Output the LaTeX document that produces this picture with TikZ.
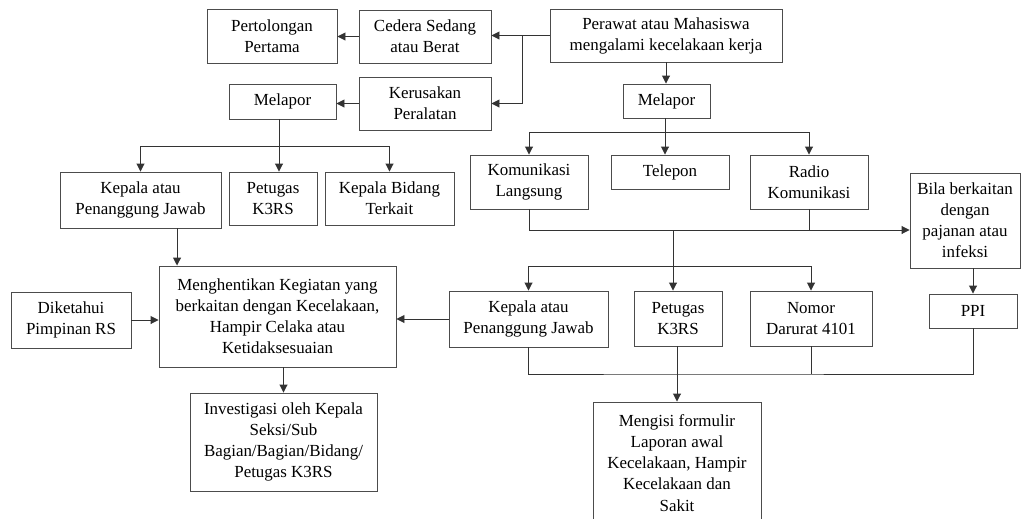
\documentclass[tikz,border=0pt]{standalone}
\usepackage{fontspec}
\setmainfont{Liberation Serif}
\usetikzlibrary{arrows.meta}

\begin{document}
\begin{tikzpicture}[x=0.75pt,y=-0.75pt,
        box/.style={draw=black!70, line width=0.7pt, inner sep=0pt, align=center, font=\fontsize{12.7}{15.8}\selectfont},
        wh/.style 2 args={minimum width=#1*0.75pt, minimum height=#2*0.75pt},
        conn/.style={draw=black!80, line width=0.7pt},
        >={Triangle[length=6pt,width=6pt]}]
        \useasboundingbox (0,0) rectangle (1031,518);
        % top row
        \node[box, wh={130}{54}] (pert) at (272,36) {Pertolongan\\Pertama};
        \node[box, wh={132}{53}] (cedera) at (425,36.5) {Cedera Sedang\\atau Berat};
        \node[box, wh={232}{53}] (perawat) at (666,35.5) {Perawat atau Mahasiswa\\mengalami kecelakaan kerja};
        \node[box, wh={107}{35}] (melaporL) at (282.5,101.5) {Melapor};
        \node[box, wh={132}{53}] (rusak) at (425,103.5) {Kerusakan\\Peralatan};
        \node[box, wh={87}{34}] (melaporR) at (666.5,101) {Melapor};
        % left branch
        \node[box, wh={161}{56}] (kepalaL) at (140.5,200) {Kepala atau\\Penanggung Jawab};
        \node[box, wh={88}{53}] (petugasL) at (273,198.5) {Petugas\\K3RS};
        \node[box, wh={129}{53}] (bidang) at (389.5,198.5) {Kepala Bidang\\Terkait};
        \node[box, wh={237}{101}] (stop) at (277.5,316.5) {Menghentikan Kegiatan yang\\berkaitan dengan Kecelakaan,\\Hampir Celaka atau\\Ketidaksesuaian};
        \node[box, wh={120}{56}] (tahu) at (71,320) {Diketahui\\Pimpinan RS};
        \node[box, wh={187}{98}] (invest) at (283.5,442) {Investigasi oleh Kepala\\Seksi/Sub\\Bagian/Bagian/Bidang/\\Petugas K3RS};
        % right branch
        \node[box, wh={118}{54}] (komL) at (529,182) {Komunikasi\\Langsung};
        \node[box, wh={118}{34}] (telp) at (670,172) {Telepon};
        \node[box, wh={118}{54}] (radio) at (809,182) {Radio\\Komunikasi};
        \node[box, wh={110}{95}] (bila) at (965,220.5) {Bila berkaitan\\dengan\\pajanan atau\\infeksi};
        \node[box, wh={159}{56}] (kepalaR) at (528.5,319) {Kepala atau\\Penanggung Jawab};
        \node[box, wh={88}{55}] (petugasR) at (678,318.5) {Petugas\\K3RS};
        \node[box, wh={122}{55}] (nomor) at (811,318.5) {Nomor\\Darurat 4101};
        \node[box, wh={88}{34}] (ppi) at (973,311) {PPI};
        \node[box, wh={168}{122}] (isi) at (677,463) {Mengisi formulir\\Laporan awal\\Kecelakaan, Hampir\\Kecelakaan dan\\Sakit};

        % connectors, top
        \draw[conn,->] (perawat.west) -- (perawat.west -| cedera.east);
        \draw[conn,->] (perawat.west) -- ++(-27,0) |- (rusak.east);
        \draw[conn,->] (cedera.west) -- (cedera.west -| pert.east);
        \draw[conn,->] (rusak.west) -- (rusak.west -| melaporL.east);
        \draw[conn,->] (perawat.south) -- (perawat.south |- melaporR.north);

        % left branch
        \coordinate (busL) at (279,146);
        \draw[conn] (melaporL.south -| busL) -- (busL);
        \draw[conn,->] (busL) -| (kepalaL.north);
        \draw[conn,->] (busL) -| (bidang.north);
        \draw[conn,->] (busL) -- (busL |- petugasL.north);
        \draw[conn,->] ([xshift=27.4pt]kepalaL.south) -- ([xshift=27.4pt]kepalaL.south |- stop.north);
        \draw[conn,->] (tahu.east) -- (tahu.east -| stop.west);
        \draw[conn,->] (kepalaR.west) -- (kepalaR.west -| stop.east);
        \draw[conn,->] (invest.north |- stop.south) -- (invest.north);

        % right branch
        \coordinate (busR) at (665,132);
        \draw[conn] (melaporR.south -| busR) -- (busR);
        \draw[conn,->] (busR) -| (komL.north);
        \draw[conn,->] (busR) -| (radio.north);
        \draw[conn,->] (busR) -- (busR |- telp.north);
        \coordinate (mid) at (673,230);
        \coordinate (low) at (673,266);
        \draw[conn] (komL.south) |- (mid);
        \draw[conn,->] (radio.south) |- (bila.west |- mid);
        \draw[conn] (komL.south |- mid) -- (radio.south |- mid);
        \draw[conn] (mid) -- (low);
        \draw[conn,->] (low) -| (kepalaR.north);
        \draw[conn,->] (low) -| (nomor.north);
        \draw[conn,->] (low) -- (low |- petugasR.north);
        \draw[conn,->] (ppi.north |- bila.south) -- (ppi.north);

        % bottom
        \coordinate (bot) at (677,374);
        \draw[conn] (kepalaR.south) |- (bot) -| (ppi.south);
        \draw[conn] (nomor.south) -- (nomor.south |- bot);
        \draw[conn,->] (isi.north |- petugasR.south) -- (isi.north);
    \end{tikzpicture}
\end{document}
